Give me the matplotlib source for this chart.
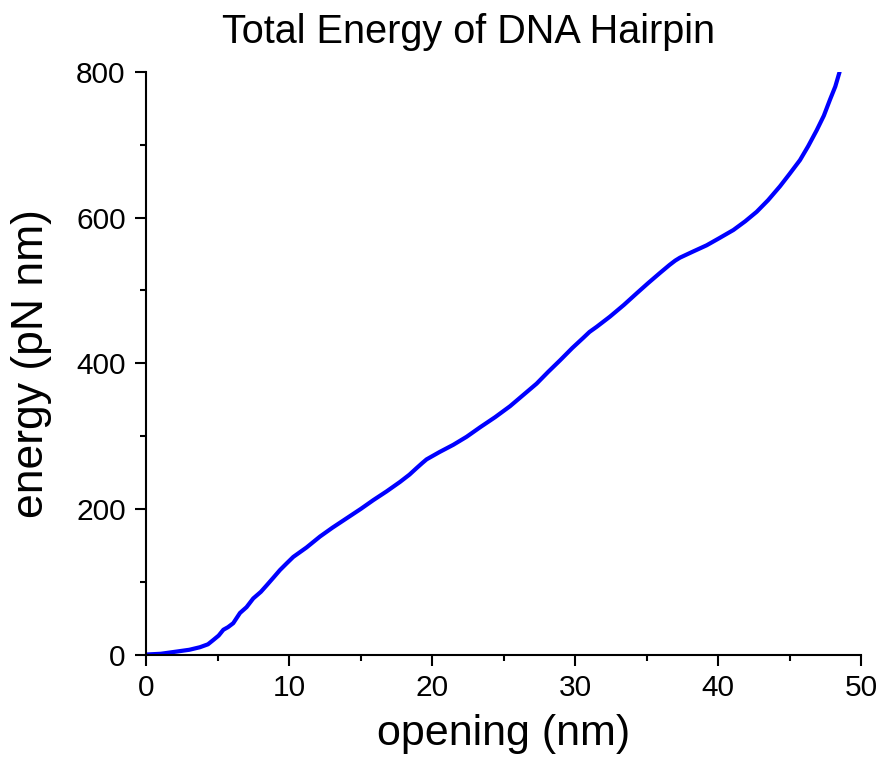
import numpy as np
import matplotlib
matplotlib.use('Agg')
import matplotlib.pyplot as plt
from matplotlib.ticker import MultipleLocator

plt.rcParams['font.family'] = ['Liberation Sans', 'DejaVu Sans']

# Hairpin opening (nm) vs. total energy (pN nm)
opening = [0.0, 1.0, 2.1, 3.0, 3.74, 4.3, 4.68, 5.05, 5.38, 5.7, 6.07, 6.54, 7.0,
           7.47, 8.0, 8.41, 8.9, 9.34, 9.8, 10.27, 11.2, 12.14, 13.0, 14.0, 15.0,
           15.87, 16.8, 17.74, 18.4, 18.9, 19.3, 19.6, 20.5, 21.47, 22.4, 23.34, 24.4,
           25.44, 26.4, 27.3, 28.1, 28.94, 29.8, 30.57, 31.0, 31.5, 32.43, 33.4, 34.3,
           35.1, 35.93, 36.6, 37.0, 37.33, 38.2, 39.2, 40.1, 41.07, 41.9, 42.7, 43.5,
           44.33, 45.0, 45.73, 46.3, 46.9, 47.4, 47.83, 48.2, 48.5]
energy = [0.0, 1.0, 4.0, 6.5, 10.0, 14.0, 20.0, 26.0, 34.0, 37.5, 43.0, 57.0, 65.0,
          77.0, 86.0, 95.0, 106.0, 116.0, 125.0, 134.0, 147.0, 162.0, 174.0, 187.0,
          200.0, 212.0, 224.0, 237.0, 247.0, 256.0, 263.0, 268.0, 278.0, 288.0, 299.0,
          312.0, 326.0, 341.0, 357.0, 372.0, 388.0, 404.0, 421.0, 435.0, 443.0, 450.0,
          464.0, 480.0, 496.0, 510.0, 524.0, 535.0, 541.0, 545.0, 553.0, 562.0, 572.0,
          583.0, 595.0, 608.0, 624.0, 643.0, 660.0, 679.0, 698.0, 720.0, 740.0,
          762.0, 780.0, 800.0]

fig = plt.figure(figsize=(8.79, 7.57), dpi=100)
ax = fig.add_axes([146.5 / 879, 1 - 654.5 / 757, (861 - 146.5) / 879, (654.5 - 72) / 757])

ax.plot(opening, energy, color='#0000ff', linewidth=3.0,
        solid_capstyle='round', solid_joinstyle='round')

ax.set_xlim(0, 50)
ax.set_ylim(0, 800)
ax.xaxis.set_major_locator(MultipleLocator(10))
ax.xaxis.set_minor_locator(MultipleLocator(5))
ax.yaxis.set_major_locator(MultipleLocator(200))
ax.yaxis.set_minor_locator(MultipleLocator(100))

for side in ('top', 'right'):
    ax.spines[side].set_visible(False)
for side in ('left', 'bottom'):
    ax.spines[side].set_linewidth(1.5)

ax.tick_params(which='major', direction='out', length=8, width=1.5, pad=6, labelsize=21.5)
ax.tick_params(which='minor', direction='out', length=4.5, width=1.5)
ax.tick_params(axis='y', pad=7)

ax.set_xlabel('opening (nm)', fontsize=31, labelpad=9)
ax.set_ylabel('energy (pN nm)', fontsize=32, labelpad=17)
fig.text(469 / 879, 1 - 43 / 757, 'Total Energy of DNA Hairpin', fontsize=28.5,
         ha='center', va='baseline')

fig.savefig('out.png', dpi=100)
